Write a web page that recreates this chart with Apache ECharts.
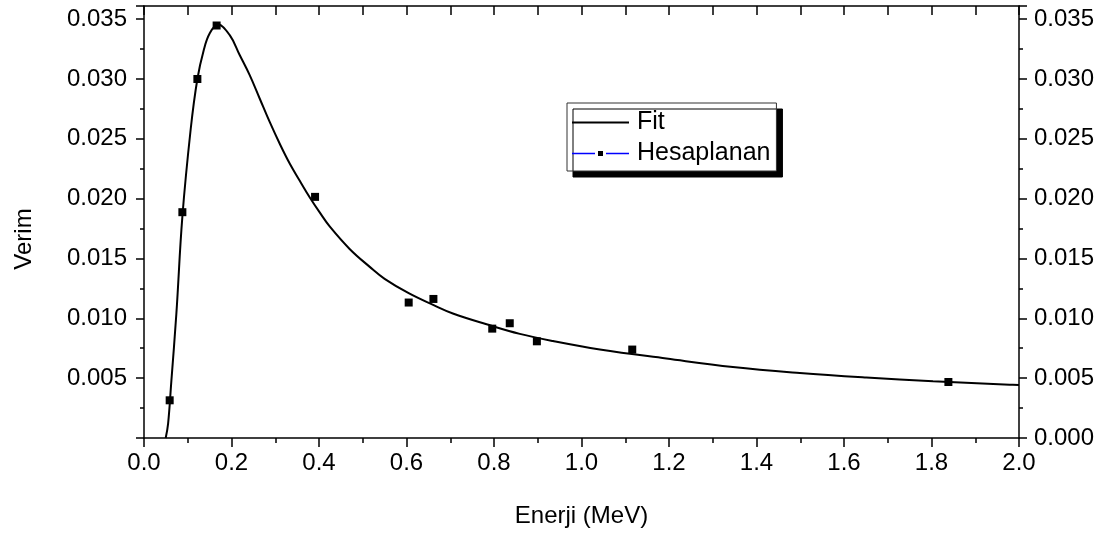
<!DOCTYPE html>
<html>
<head>
<meta charset="utf-8">
<script src="https://cdn.jsdelivr.net/npm/echarts@6/dist/echarts.min.js"></script>
<style>
  html, body { margin: 0; padding: 0; background: #fff; }
  #chart { width: 1109px; height: 536px; }
</style>
</head>
<body>
<div id="chart"></div>
<script>
// olculen noktalar (Hesaplanan)
var olcumEnerji = [0.0587, 0.0877, 0.122, 0.166, 0.391, 0.605, 0.6615, 0.796, 0.836, 0.898, 1.116, 1.8386];
var olcumVerim = [0.00315, 0.01887, 0.0300, 0.03447, 0.02015, 0.01132, 0.01162, 0.00914, 0.00959, 0.00808, 0.00739, 0.00468];

// fit egrisi, resimden okunan noktalar
var fitEnerji = [0.0496, 0.0551, 0.0626, 0.074, 0.0877, 0.1067, 0.122, 0.1365, 0.150, 0.169, 0.196, 0.2187, 0.2416, 0.2644, 0.2873, 0.310, 0.333, 0.356, 0.379, 0.4016, 0.4244, 0.470, 0.516, 0.550, 0.605, 0.662, 0.706, 0.783, 0.859, 0.935, 1.042, 1.194, 1.346, 1.499, 1.651, 1.8035, 1.9787, 2.0];
var fitVerim = [0.0, 0.0012, 0.0048, 0.0104, 0.0185, 0.0258, 0.0300, 0.0324, 0.0338, 0.03455, 0.03366, 0.0320, 0.03032, 0.02837, 0.02641, 0.02461, 0.02294, 0.0215, 0.0201, 0.01885, 0.01768, 0.0158, 0.0143, 0.0133, 0.0121, 0.0111, 0.0104, 0.0095, 0.0087, 0.0081, 0.0074, 0.00664, 0.00593, 0.00543, 0.00505, 0.00474, 0.00446, 0.00443];

var xTicks = { min: 0, max: 2.0, interval: 0.2 };
var yTicks = { min: 0, max: 0.0361, interval: 0.005 };

function pairs(xs, ys) {
    return xs.map(function (x, i) { return [x, ys[i]]; });
}

var font = "'Liberation Sans', Arial, sans-serif";
var fs = 24;
var eksen = { color: '#000', width: 1.5 };

var chart = echarts.init(document.getElementById('chart'));

var option = {
    backgroundColor: '#fff',
    animation: false,
    textStyle: { fontFamily: font, color: '#000' },
    grid: { left: 144, right: 90, top: 6, bottom: 98 },
    legend: {
        orient: 'vertical',
        left: 567,
        top: 103,
        padding: [7, 6, 5, 4],
        itemGap: 6,
        itemWidth: 57,
        itemHeight: 10,
        backgroundColor: '#fff',
        borderColor: '#333',
        borderWidth: 1,
        shadowColor: '#000',
        shadowBlur: 0,
        shadowOffsetX: 6,
        shadowOffsetY: 6,
        textStyle: { fontFamily: font, fontSize: 25, color: '#000', padding: [0, 0, 0, 3] },
        data: [
            { name: 'Fit', itemStyle: { opacity: 0 } },
            { name: 'Hesaplanan', lineStyle: { color: '#0000ff', width: 1.5, opacity: 1 },
              itemStyle: { color: '#000', borderColor: '#fff', borderWidth: 3 } }
        ]
    },
    xAxis: [
        {
            type: 'value',
            position: 'bottom',
            min: xTicks.min, max: xTicks.max, interval: xTicks.interval,
            name: 'Enerji (MeV)',
            nameLocation: 'middle',
            nameGap: 66,
            nameTextStyle: { fontFamily: font, fontSize: fs, color: '#000' },
            axisLine: { onZero: false, lineStyle: eksen },
            axisTick: { inside: false, length: 9, lineStyle: eksen },
            minorTick: { show: true, splitNumber: 2, length: 5, lineStyle: eksen },
            axisLabel: { margin: 13, fontFamily: font, fontSize: fs, color: '#000',
                formatter: function (v) { return v.toFixed(1); } },
            splitLine: { show: false }
        },
        {
            type: 'value',
            position: 'top',
            min: xTicks.min, max: xTicks.max, interval: xTicks.interval,
            axisLine: { onZero: false, lineStyle: eksen },
            axisTick: { inside: true, length: 9, lineStyle: eksen },
            minorTick: { show: true, splitNumber: 2, length: 9, lineStyle: eksen },
            axisLabel: { show: false },
            splitLine: { show: false }
        }
    ],
    yAxis: [
        {
            type: 'value',
            position: 'left',
            min: yTicks.min, max: yTicks.max, interval: yTicks.interval,
            name: 'Verim',
            nameLocation: 'middle',
            nameGap: 108,
            nameTextStyle: { fontFamily: font, fontSize: fs, color: '#000', padding: [0, 34, 0, 0] },
            axisLine: { show: true, onZero: false, lineStyle: eksen },
            axisTick: { inside: false, length: 8, lineStyle: eksen },
            minorTick: { show: true, splitNumber: 2, length: 4, lineStyle: eksen },
            axisLabel: { margin: 17, fontFamily: font, fontSize: fs, color: '#000',
                formatter: function (v) { return (v === 0 || v > 0.0355) ? '' : v.toFixed(3); } },
            splitLine: { show: false }
        },
        {
            type: 'value',
            position: 'right',
            min: yTicks.min, max: yTicks.max, interval: yTicks.interval,
            axisLine: { show: true, onZero: false, lineStyle: eksen },
            axisTick: { inside: false, length: 8, lineStyle: eksen },
            minorTick: { show: true, splitNumber: 2, length: 4, lineStyle: eksen },
            axisLabel: { margin: 15, fontFamily: font, fontSize: fs, color: '#000',
                formatter: function (v) { return v > 0.0355 ? '' : v.toFixed(3); } },
            splitLine: { show: false }
        }
    ],
    series: [
        {
            name: 'Fit',
            type: 'line',
            data: pairs(fitEnerji, fitVerim),
            smooth: 0.4,
            showSymbol: false,
            symbol: 'none',
            lineStyle: { color: '#000', width: 2 },
            itemStyle: { color: '#000' },
            z: 2
        },
        {
            name: 'Hesaplanan',
            type: 'line',
            data: pairs(olcumEnerji, olcumVerim),
            symbol: 'rect',
            symbolSize: 8,
            showAllSymbol: true,
            lineStyle: { width: 0, opacity: 0, color: '#0000ff' },
            itemStyle: { color: '#000' },
            z: 3
        }
    ]
};

chart.setOption(option);
</script>
</body>
</html>
